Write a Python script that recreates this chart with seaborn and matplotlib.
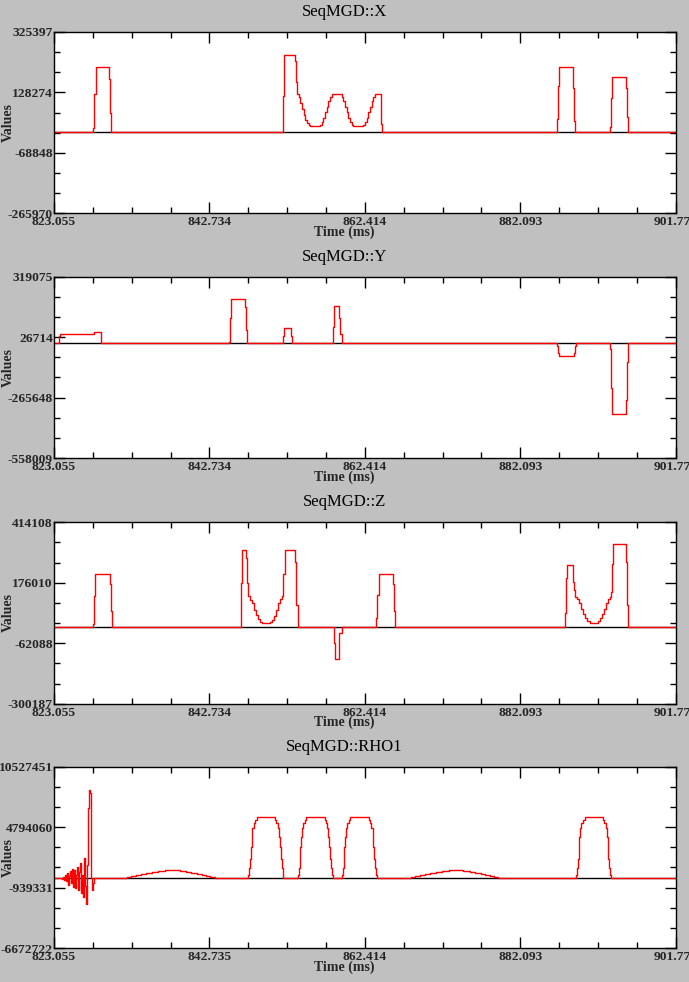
import numpy as np
import pandas as pd
import matplotlib
matplotlib.use("Agg")
import matplotlib.pyplot as plt
import seaborn as sns

# ---------------- data ----------------
t_start, t_end = 823.055, 901.773
x_tick_labels_top = ["823.055", "842.734", "862.414", "882.093", "901.773"]
x_tick_labels_rho = ["823.055", "842.735", "862.414", "882.093", "901.773"]

titles = ["SeqMGD::X", "SeqMGD::Y", "SeqMGD::Z", "SeqMGD::RHO1"]
y_tick_labels = [
    ["325397", "128274", "-68848", "-265970"],
    ["319075", "26714", "-265648", "-558009"],
    ["414108", "176010", "-62088", "-300187"],
    ["10527451", "4794060", "-939331", "-6672722"],
]
y_limits = [(-265970, 325397), (-558009, 319075), (-300187, 414108), (-6672722, 10527451)]

# step-start times (ms) and values for gradient X
gx_t = [823.055,
        828.04, 828.16, 828.33, 830.06, 830.19, 830.31,
        852.09, 852.22, 853.57, 853.70, 853.82, 854.03, 854.24, 854.45, 854.66, 854.87, 855.08,
        855.29, 855.50, 856.74, 856.95, 857.16, 857.37, 857.58, 857.79, 858.00, 858.21, 859.48,
        859.69, 859.90, 860.11, 860.32, 860.53, 860.74, 860.95, 862.22, 862.43, 862.64, 862.85,
        863.06, 863.27, 863.48, 863.69, 864.46, 864.58,
        886.79, 886.92, 887.04, 888.81, 888.94, 889.07,
        893.46, 893.58, 893.75, 895.48, 895.61, 895.74,
        901.773]
gx_v = [0,
        11000, 122000, 210000, 171000, 60000, 0,
        118000, 250000, 230000, 163000, 123000, 112000, 95000, 76000, 56000, 40000, 28000,
        21000, 17700, 22000, 32000, 46000, 63000, 82000, 100000, 115000, 123000, 115000,
        100000, 82000, 63000, 46000, 32000, 22000, 17700, 22000, 32000, 46000, 63000,
        82000, 100000, 115000, 123000, 24000, 0,
        40600, 149000, 210000, 141600, 35100, 0,
        14500, 109000, 177600, 141600, 47000, 0,
        0]

# gradient Y
gy_t = [823.055,
        823.69, 823.82, 828.16, 828.95,
        845.26, 845.38, 845.51, 847.28, 847.41, 847.54,
        852.05, 852.22, 853.06, 853.23,
        858.42, 858.55, 859.14, 859.31, 859.48,
        886.79, 886.90, 886.97, 888.90, 889.00, 889.11,
        893.50, 893.62, 893.75, 895.52, 895.65, 895.78,
        901.773]
gy_v = [0,
        30000, 42000, 50300, 0,
        5000, 118000, 211000, 172600, 61600, 0,
        32600, 69700, 32600, 0,
        74400, 175500, 121800, 40000, 0,
        -14000, -51000, -64000, -51000, -14000, 0,
        -29000, -216800, -345600, -278000, -94500, 0,
        0]

# gradient Z
gz_t = [823.055,
        827.98, 828.13, 828.28, 830.09, 830.24, 830.39,
        846.67, 846.82, 847.32, 847.47, 847.63, 847.85, 848.10, 848.35, 848.60, 848.85, 849.10,
        849.35, 850.44, 850.69, 850.94, 851.19, 851.44, 851.69, 851.95, 852.10, 852.25, 853.60,
        853.75, 853.91,
        858.48, 858.63, 859.18, 859.48,
        863.86, 864.01, 864.16, 865.92, 866.07, 866.22,
        887.77, 887.92, 888.07, 888.78, 888.93, 889.08, 889.30, 889.55, 889.80, 890.05, 890.30,
        890.60, 890.90, 891.14, 891.64, 891.90, 892.15, 892.40, 892.65, 892.90, 893.15, 893.40,
        893.55, 893.70, 893.85, 895.46, 895.61, 895.76,
        901.773]
gz_v = [0,
        12000, 124000, 210700, 170000, 65000, 0,
        174000, 303800, 272300, 176600, 124100, 110000, 95000, 70000, 50000, 32000, 22000,
        16500, 22000, 30000, 45000, 68000, 95000, 112000, 124100, 210700, 303800, 259000,
        88700, 0,
        -62000, -123800, -22800, 0,
        36000, 128000, 210700, 170000, 65000, 0,
        58500, 196200, 246100, 180000, 147700, 121500, 112000, 95000, 72000, 52000, 36000,
        25000, 19000, 16500, 19000, 25000, 36000, 52000, 72000, 95000, 112000, 121500,
        141100, 250000, 327400, 259200, 88700, 0,
        0]

# RF (RHO1): excitation oscillation samples
rf_osc_t = [824.110, 824.237, 824.364, 824.491, 824.618, 824.745, 824.872, 824.999, 825.126,
            825.253, 825.380, 825.507, 825.634, 825.761, 825.888, 826.015, 826.142, 826.269,
            826.396, 826.523, 826.650, 826.777, 826.904, 827.031, 827.158, 827.285, 827.412,
            827.539, 827.666, 827.793, 827.920, 828.047, 828.174]
rf_osc_v = [-120000, 80000, -200000, 266000, -300000, 424000, -681000, 200000, 600000,
            -500000, 803000, -839000, 740000, -997000, 300000, 1056000, -1155000, 500000,
            1372000, -1469000, 300000, -1786000, 1846000, -800000, -2480000, 1214000, 6644000,
            8318000, 8002000, 0, -1155000, -522000, 0]
# refocusing pulse shape (offset ms from pulse start, value) and pulse starts
rf_pulse_offsets = [0.00, 0.10, 0.20, 0.30, 0.40, 0.50, 0.65, 0.85, 1.05,
                    3.37, 3.55, 3.72, 3.85, 3.97, 4.08, 4.20, 4.32, 4.42]
rf_pulse_values = [300000, 900000, 1800000, 2900000, 3900000, 4700000, 5200000, 5500000, 5729000,
                   5500000, 5200000, 4700000, 3900000, 2900000, 1800000, 900000, 300000, 0]
rf_pulse_starts = [847.675, 853.956, 859.534, 889.179]
# small lobes
rf_lobe_offsets = [0.0, 0.5, 1.1, 1.7, 2.4, 3.1, 3.9, 4.8, 6.6, 7.4, 8.1, 8.8, 9.4, 10.0, 10.5, 11.05]
rf_lobe_values = [95000, 190000, 285000, 380000, 475000, 570000, 665000, 757000,
                  665000, 570000, 475000, 380000, 285000, 190000, 95000, 0]
rf_lobe_starts = [832.35, 868.28]

# build RHO1 table
rho_pts = [(t_start, 0), (t_end, 0)] + list(zip(rf_osc_t, rf_osc_v))
for s in rf_pulse_starts:
    rho_pts += [(s + o, v) for o, v in zip(rf_pulse_offsets, rf_pulse_values)]
for s in rf_lobe_starts:
    rho_pts += [(s + o, v) for o, v in zip(rf_lobe_offsets, rf_lobe_values)]
rho_pts.sort()
rho_t = [p[0] for p in rho_pts]
rho_v = [p[1] for p in rho_pts]

series = [(gx_t, gx_v), (gy_t, gy_v), (gz_t, gz_v), (rho_t, rho_v)]

# ---------------- drawing ----------------
sns.set_style("ticks")
plt.rcParams["font.family"] = ["Liberation Serif", "DejaVu Serif"]

W, H = 689, 982
fig = plt.figure(figsize=(W / 100, H / 100), dpi=100, facecolor="#c0c0c0")
left, width, height = 54, 621.7, 181.4
tops = [32, 276.7, 522.3, 766.7]
tick_font = dict(family="Liberation Serif", weight="bold", size=9.7)

for i, (tt, vv) in enumerate(series):
    top = tops[i]
    ax = fig.add_axes([left / W, 1 - (top + height) / H, width / W, height / H])
    ax.set_facecolor("white")
    ax.axhline(0, color="black", lw=1.0, zorder=1)
    df = pd.DataFrame({"Time (ms)": tt, "Values": vv})
    sns.lineplot(data=df, x="Time (ms)", y="Values", ax=ax, color="#ff0000", lw=1.0,
                 estimator=None, sort=False, drawstyle="steps-post", zorder=2)
    ax.set_xlim(t_start, t_end)
    ymin, ymax = y_limits[i]
    ax.set_ylim(ymin, ymax)

    xt = np.linspace(t_start, t_end, 5)
    ax.set_xticks(xt)
    ax.set_xticks(np.linspace(t_start, t_end, 17), minor=True)
    ax.set_xticklabels(x_tick_labels_rho if i == 3 else x_tick_labels_top, fontdict=tick_font)
    yt = np.linspace(ymax, ymin, 4)
    ax.set_yticks(yt)
    ax.set_yticks(np.linspace(ymin, ymax, 10), minor=True)
    ax.set_yticklabels(y_tick_labels[i], fontdict=tick_font)

    ax.tick_params(which="both", direction="in", top=True, right=True, color="black", width=1)
    ax.tick_params(which="major", length=8)
    ax.tick_params(which="minor", length=4)
    ax.tick_params(axis="y", pad=0.8)
    ax.tick_params(axis="x", pad=2.2)
    for sp in ax.spines.values():
        sp.set_color("black")
        sp.set_linewidth(1.0)

    ax.set_title(titles[i], x=(344.5 - left) / width, y=1 + 20 / height, va="center", pad=0,
                 fontsize=12, family="Liberation Serif", color="black")
    ax.set_xlabel("Time (ms)", fontsize=10, weight="bold", family="Liberation Serif")
    ax.xaxis.set_label_coords((344.5 - left) / width, -19 / height)
    ax.xaxis.label.set_va("center")
    ax.set_ylabel("Values", fontsize=10, weight="bold", family="Liberation Serif")
    ax.yaxis.set_label_coords((8 - left) / width, 0.5)
    ax.yaxis.label.set_va("center")
    ax.yaxis.label.set_ha("center")
    ax.yaxis.label.set_rotation_mode("anchor")

fig.savefig("out.png", dpi=100, facecolor=fig.get_facecolor())
